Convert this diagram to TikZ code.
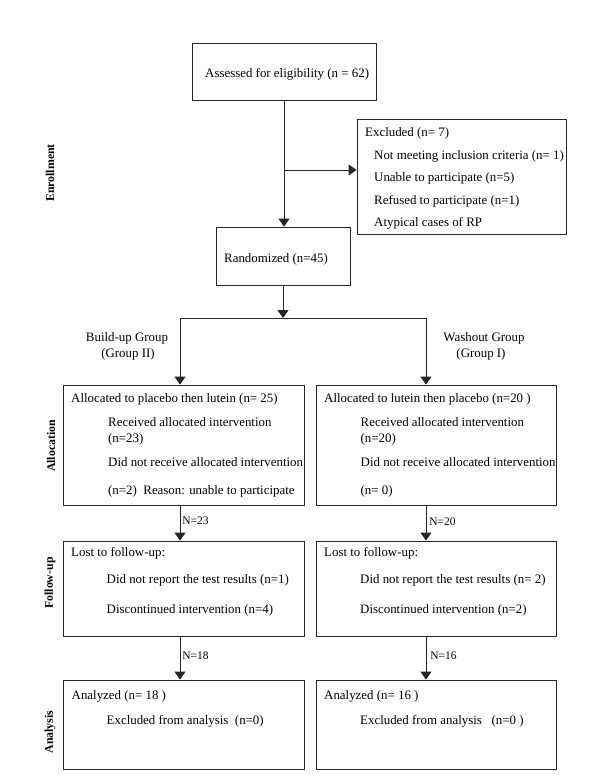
\documentclass[tikz,border=0pt]{standalone}
\usepackage{fontspec}
\setmainfont{Liberation Serif}
\usetikzlibrary{arrows.meta}
\begin{document}
\begin{tikzpicture}[x=1pt,y=-1pt,
  box/.style={draw=black!85,line width=0.8pt,rectangle,inner sep=0pt},
  txt/.style={anchor=west,inner sep=0pt,font=\fontsize{12.9}{15}\selectfont},
  ctxt/.style={anchor=center,inner sep=0pt,font=\fontsize{12.9}{15}\selectfont},
  ntxt/.style={anchor=west,inner sep=0pt,font=\fontsize{11.5}{13}\selectfont},
  side/.style={rotate=90,anchor=center,inner sep=0pt,font=\fontsize{11.8}{14}\selectfont\bfseries},
  line/.style={draw=black!85,line width=0.8pt},
  arr/.style={line,-{Triangle[width=11pt,length=8pt]}}]
\useasboundingbox[fill=white] (0,0) rectangle (600,777);
% boxes
\node[box,minimum width=184pt,minimum height=57pt] (assess) at (284,71.5) {};
\node[box,minimum width=209pt,minimum height=115pt] (excl) at (461.5,176.5) {};
\node[box,minimum width=134pt,minimum height=58pt] (rand) at (283,256) {};
\node[box,minimum width=241pt,minimum height=120pt] (allocL) at (183.5,445) {};
\node[box,minimum width=240pt,minimum height=120pt] (allocR) at (436,445) {};
\node[box,minimum width=241pt,minimum height=95pt] (lostL) at (183.5,588.5) {};
\node[box,minimum width=240pt,minimum height=95pt] (lostR) at (436,588.5) {};
\node[box,minimum width=241pt,minimum height=89pt] (anaL) at (183.5,724.5) {};
\node[box,minimum width=240pt,minimum height=89pt] (anaR) at (436,724.5) {};
% texts
\node[txt] (t1) at (205,74) {Assessed for eligibility (n = 62)};
\node[txt] (e1) at (365,133) {Excluded (n= 7)};
\node[txt] (e2) at (374,156) {Not meeting inclusion criteria (n= 1)};
\node[txt] (e3) at (374,178) {Unable to participate (n=5)};
\node[txt] (e4) at (374,201) {Refused to participate (n=1)};
\node[txt] (e5) at (374,223) {Atypical cases of RP};
\node[txt] (r1) at (224,259) {Randomized (n=45)};
\node[ctxt] (g1) at (127,338) {Build-up Group};
\node[ctxt] (g2) at (128,354) {(Group II)};
\node[ctxt] (g3) at (484,338) {Washout Group};
\node[ctxt] (g4) at (481,354) {(Group I)};
\node[txt] (aL1) at (71,399) {Allocated to placebo then lutein (n= 25)};
\node[txt] (aL2) at (108,422) {Received allocated intervention};
\node[txt] (aL3) at (108,439) {(n=23)};
\node[txt] (aL4) at (108,462) {Did not receive allocated intervention};
\node[txt] (aL5) at (108,491) {(n=2)\ \ Reason: unable to participate};
\node[txt] (aR1) at (324,399) {Allocated to lutein then placebo (n=20 )};
\node[txt] (aR2) at (360.5,422) {Received allocated intervention};
\node[txt] (aR3) at (360.5,439) {(n=20)};
\node[txt] (aR4) at (360.5,462) {Did not receive allocated intervention};
\node[txt] (aR5) at (360.5,491) {(n= 0)};
\node[txt] (lL1) at (71,553) {Lost to follow-up:};
\node[txt] (lL2) at (106.5,580) {Did not report the test results (n=1)};
\node[txt] (lL3) at (106.5,610) {Discontinued intervention (n=4)};
\node[txt] (lR1) at (324,553) {Lost to follow-up:};
\node[txt] (lR2) at (360,580) {Did not report the test results (n= 2)};
\node[txt] (lR3) at (360,610) {Discontinued intervention (n=2)};
\node[txt] (nL1) at (71.5,696) {Analyzed (n= 18 )};
\node[txt] (nL2) at (106.5,721.5) {Excluded from analysis\ \ (n=0)};
\node[txt] (nR1) at (324,696) {Analyzed (n= 16 )};
\node[txt] (nR2) at (360,721.5) {Excluded from analysis\ \ \ (n=0 )};
% side labels
\node[side] (s1) at (50,173) {Enrollment};
\node[side] (s2) at (51,446) {Allocation};
\node[side] (s3) at (50,583) {Follow-up};
\node[side] (s4) at (50,732) {Analysis};
% connectors
\coordinate (br) at (284,170);
\coordinate (bar) at (283,318);
\coordinate (bl) at (180,318);
\coordinate (brr) at (426,318);
\draw[arr] (assess.south) -- (assess.south |- rand.north);
\draw[arr] (br) -- (br -| excl.west);
\draw[arr] (rand.south) -- (bar);
\draw[line] (bl) -- (brr);
\draw[arr] (bl) -- (bl |- allocL.north);
\draw[arr] (brr) -- (brr |- allocR.north);
\draw[arr] (bl |- allocL.south) -- (bl |- lostL.north) node[ntxt,pos=0.45,xshift=2pt] (n23) {N=23};
\draw[arr] (brr |- allocR.south) -- (brr |- lostR.north) node[ntxt,pos=0.45,xshift=3pt] (n20) {N=20};
\draw[arr] (bl |- lostL.south) -- (bl |- anaL.north) node[ntxt,pos=0.45,xshift=2pt] (n18) {N=18};
\draw[arr] (brr |- lostR.south) -- (brr |- anaR.north) node[ntxt,pos=0.45,xshift=4pt] (n16) {N=16};
\end{tikzpicture}
\end{document}
